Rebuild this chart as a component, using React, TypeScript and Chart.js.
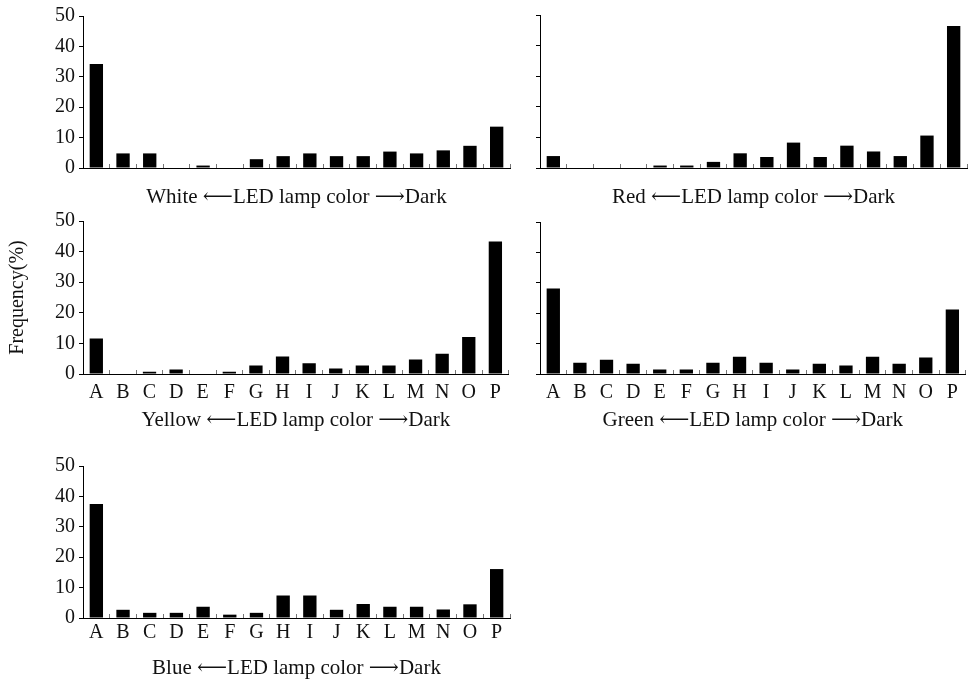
import React, { useEffect, useRef } from "react";
import { Chart, registerables } from "chart.js";

Chart.register(...registerables);

const categories = ["A", "B", "C", "D", "E", "F", "G", "H", "I", "J", "K", "L", "M", "N", "O", "P"];
const yMin = 0;
const yMax = 50;
const yStep = 10;

const whiteValues = [34.2, 4.8, 4.8, 0, 0.8, 0, 2.9, 3.9, 4.8, 3.9, 3.9, 5.4, 4.8, 5.8, 7.3, 13.6];
const redValues = [3.9, 0, 0, 0, 0.8, 0.8, 2.0, 4.8, 3.6, 8.3, 3.6, 7.3, 5.4, 3.9, 10.6, 46.4];
const yellowValues = [11.6, 0, 0.7, 1.5, 0, 0.7, 2.8, 5.7, 3.5, 1.8, 2.8, 2.8, 4.7, 6.6, 12.1, 43.3];
const greenValues = [28.1, 3.7, 4.7, 3.4, 1.5, 1.5, 3.7, 5.7, 3.7, 1.5, 3.4, 2.8, 5.7, 3.4, 5.4, 21.2];
const blueValues = [37.5, 2.7, 1.7, 1.7, 3.7, 1.1, 1.7, 7.4, 7.4, 2.7, 4.6, 3.7, 3.7, 2.8, 4.5, 16.1];

const whiteCaption = "White \u27F5LED lamp color \u27F6Dark";
const redCaption = "Red \u27F5LED lamp color \u27F6Dark";
const yellowCaption = "Yellow \u27F5LED lamp color \u27F6Dark";
const greenCaption = "Green \u27F5LED lamp color \u27F6Dark";
const blueCaption = "Blue \u27F5LED lamp color \u27F6Dark";
const yAxisTitle = "Frequency(%)";

const FONT = '"Liberation Serif", "Times New Roman", "DejaVu Serif", serif';

type PanelProps = {
  values: number[];
  caption: string;
  left: number;
  top: number;
  width: number;
  height: number;
  padTop: number;
  plotBottom: number;
  yWidth: number;
  showYLabels: boolean;
  showXLabels: boolean;
  xLabelPad: number;
  captionPad: number;
  yTitle?: string;
};

function Panel(p: PanelProps) {
  const ref = useRef<HTMLCanvasElement>(null);
  useEffect(() => {
    const chart = new Chart(ref.current as HTMLCanvasElement, {
      type: "bar",
      data: {
        labels: categories,
        datasets: [
          {
            data: p.values,
            backgroundColor: "#000",
            borderWidth: 0,
            barPercentage: 0.5,
            categoryPercentage: 1,
          },
        ],
      },
      options: {
        responsive: false,
        animation: false,
        layout: { padding: { top: p.padTop, right: 2, bottom: 0, left: 0 } },
        plugins: {
          legend: { display: false },
          tooltip: { enabled: false },
          title: { display: false },
        },
        scales: {
          x: {
            grid: {
              display: true,
              drawOnChartArea: false,
              drawTicks: true,
              tickLength: -4,
              color: "#777",
              lineWidth: 1,
              offset: true,
            },
            border: { display: true, color: "#000", width: 1 },
            ticks: {
              display: p.showXLabels,
              color: "#111",
              padding: p.xLabelPad,
              autoSkip: false,
              maxRotation: 0,
              font: { family: FONT, size: 20 },
            },
            title: {
              display: true,
              text: p.caption,
              color: "#111",
              font: { family: FONT, size: 21 },
              padding: { top: 0, bottom: p.captionPad },
            },
            afterFit: (s: any) => {
              s.height = p.height - p.plotBottom;
            },
          },
          y: {
            min: yMin,
            max: yMax,
            ticks: {
              display: p.showYLabels,
              stepSize: yStep,
              color: "#111",
              padding: 4,
              font: { family: FONT, size: 20 },
            },
            grid: {
              display: true,
              drawOnChartArea: false,
              drawTicks: true,
              tickLength: 4,
              color: "#000",
            },
            border: { display: true, color: "#000", width: 1 },
            title: {
              display: !!p.yTitle,
              text: p.yTitle || "",
              color: "#111",
              font: { family: FONT, size: 20 },
              padding: { top: 6, bottom: 0 },
            },
            afterFit: (s: any) => {
              s.width = p.yWidth;
            },
          },
        },
      },
    } as any);
    return () => chart.destroy();
  }, []);
  return (
    <canvas
      ref={ref}
      width={p.width}
      height={p.height}
      style={{ position: "absolute", left: p.left, top: p.top, width: p.width, height: p.height }}
    />
  );
}

export default function App() {
  return (
    <div
      style={{
        position: "fixed",
        left: 0,
        top: 0,
        width: 969,
        height: 681,
        background: "#fff",
        overflow: "hidden",
      }}
    >
      <Panel values={whiteValues} caption={whiteCaption} left={0} top={0} width={512} height={215}
        padTop={15} plotBottom={168} yWidth={83} showYLabels={true} showXLabels={false}
        xLabelPad={11} captionPad={5} />
      <Panel values={redValues} caption={redCaption} left={512} top={0} width={457} height={215}
        padTop={15} plotBottom={168} yWidth={28} showYLabels={false} showXLabels={false}
        xLabelPad={11} captionPad={4.5} />
      <Panel values={yellowValues} caption={yellowCaption} left={0} top={205} width={512} height={235}
        padTop={16} plotBottom={169} yWidth={83} showYLabels={true} showXLabels={true}
        xLabelPad={11} captionPad={7.4} yTitle={yAxisTitle} />
      <Panel values={greenValues} caption={greenCaption} left={512} top={205} width={457} height={235}
        padTop={17} plotBottom={169} yWidth={28} showYLabels={false} showXLabels={true}
        xLabelPad={11} captionPad={7.4} />
      <Panel values={blueValues} caption={blueCaption} left={0} top={450} width={512} height={231}
        padTop={15} plotBottom={168} yWidth={83} showYLabels={true} showXLabels={true}
        xLabelPad={7} captionPad={0} />
    </div>
  );
}
